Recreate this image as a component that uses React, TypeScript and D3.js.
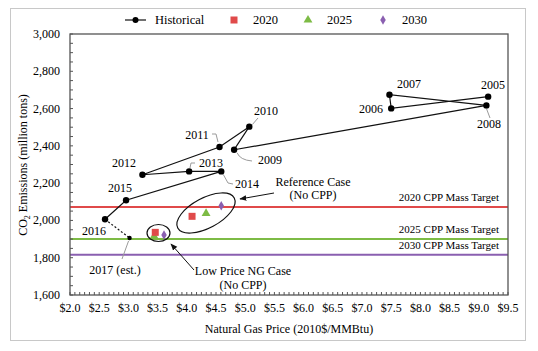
import * as d3 from "d3";

// historical path (price $/MMBtu, emissions million tons)
const histYears = ["2005", "2006", "2007", "2008", "2009", "2010", "2011", "2012", "2013", "2014", "2015", "2016"];
const histPrice = [9.16, 7.5, 7.47, 9.13, 4.81, 5.07, 4.56, 3.24, 4.04, 4.59, 2.96, 2.6];
const histCO2 = [2664, 2601, 2674, 2617, 2379, 2503, 2394, 2245, 2263, 2263, 2108, 2006];
const est2017 = { price: 3.02, co2: 1906 };

// scenario points
const scenarioYears = ["2020", "2025", "2030"];
const refPrice = [4.09, 4.33, 4.59];
const refCO2 = [2022, 2038, 2079];
const lowPrice = [3.46, 3.44, 3.61];
const lowCO2 = [1936, 1915, 1922];

const targetLabels = ["2020 CPP Mass Target", "2025 CPP Mass Target", "2030 CPP Mass Target"];
const targetValues = [2072, 1900, 1816];

const xTicks = d3.range(2, 9.51, 0.5);
const yTicks = d3.range(1600, 3001, 200);

const RED = "#e04a4a";
const GREEN = "#7dbb45";
const PURPLE = "#8a5fb0";
const colors = [RED, GREEN, PURPLE];
const FONT = "Liberation Serif, DejaVu Serif, serif";

const x = d3.scaleLinear().domain([2, 9.5]).range([70, 508]);
const y = d3.scaleLinear().domain([1600, 3000]).range([295, 34]);

function Marker({ kind, cx, cy, color }: { kind: number; cx: number; cy: number; color: string }) {
  if (kind === 0) return <rect x={cx - 3.5} y={cy - 3.5} width={7} height={7} fill={color} />;
  if (kind === 1) return <path d={d3.symbol(d3.symbolTriangle, 34)()!} transform={`translate(${cx},${cy})`} fill={color} />;
  return <path d={d3.symbol(d3.symbolDiamond, 26)()!} transform={`translate(${cx},${cy})`} fill={color} />;
}

export default function App() {
  const line = d3.line<number>().x((_, i) => x(histPrice[i])).y((_, i) => y(histCO2[i]));
  const histPath = line(histPrice)!;

  // 6 minor ticks per $0.50 on x, every 50 on y
  const minorX = d3.range(0, 91).map((i) => 2 + (i * 7.5) / 90);
  const minorY = d3.range(1600, 3001, 50);

  // year label anchor points
  const labelPos: [number, number, string][] = [
    [493, 89, "middle"],
    [383, 113, "end"],
    [409, 88, "middle"],
    [489, 128, "middle"],
    [270, 164, "middle"],
    [266, 115, "middle"],
    [197, 139, "middle"],
    [124, 167, "middle"],
    [211, 167, "middle"],
    [247, 188, "middle"],
    [120, 192, "middle"],
    [94, 235, "middle"],
  ];

  const gray = "#9a9a9a";
  const ref = refPrice.map((p, i) => [x(p), y(refCO2[i])]);
  const low = lowPrice.map((p, i) => [x(p), y(lowCO2[i])]);

  return (
    <svg width={538} height={351} style={{ position: "absolute", left: 0, top: 0, fontFamily: FONT }}>
      <rect x={0} y={0} width={538} height={351} fill="#fff" />
      <rect x={10.5} y={8.5} width={515} height={332} fill="none" stroke="#c8c8c8" />

      {/* target lines */}
      {targetValues.map((v, i) => (
        <g key={i}>
          <line x1={x(2)} x2={x(9.5)} y1={y(v)} y2={y(v)} stroke={colors[i]} strokeWidth={2} />
          <text x={499} y={y(v) - 6} textAnchor="end" fontSize={11}>{targetLabels[i]}</text>
        </g>
      ))}

      {/* frame */}
      <rect x={x(2)} y={y(3000)} width={x(9.5) - x(2)} height={y(1600) - y(3000)} fill="none" stroke="#555" strokeWidth={1.3} />
      {minorX.map((t, i) => (
        <line key={i} x1={x(t)} x2={x(t)} y1={y(1600)} y2={y(1600) - 3} stroke="#555" />
      ))}
      {minorY.map((t, i) => (
        <line key={i} x1={x(2)} x2={x(2) + 3} y1={y(t)} y2={y(t)} stroke="#555" />
      ))}
      {xTicks.map((t, i) => (
        <text key={i} x={x(t)} y={312} textAnchor="middle" fontSize={12}>{`$${t.toFixed(1)}`}</text>
      ))}
      {yTicks.map((t, i) => (
        <text key={i} x={60} y={y(t) + 4} textAnchor="end" fontSize={12}>{d3.format(",")(t)}</text>
      ))}
      <text x={289} y={333} textAnchor="middle" fontSize={12}>Natural Gas Price (2010$/MMBtu)</text>
      <text transform="translate(27,165) rotate(-90)" textAnchor="middle" fontSize={12}>
        CO<tspan fontSize={8} dy={3}>2</tspan><tspan dy={-3}> Emissions (million tons)</tspan>
      </text>

      {/* leader lines */}
      <g stroke={gray} fill="none" strokeWidth={1}>
        <path d={`M${x(9.13)},${y(2617) + 3} L490,118`} />
        <path d={`M${x(4.81) + 3},${y(2379) + 3} Q240,160 252,161`} />
        <path d={`M${x(5.07) + 3},${y(2503) - 2} L258,118`} />
        <path d={`M212,134 L216,134 L218,142`} />
        <path d={`M195,163 L191,163 L190,168`} />
        <path d={`M${x(4.59) + 2},${y(2263) + 3} L228,183 L233,184`} />
        <path d={`M${x(3.02) - 1},${y(1906) + 3} L122,259`} />
      </g>

      {/* historical line */}
      <path d={histPath} fill="none" stroke="#111" strokeWidth={1.2} />
      <line x1={x(histPrice[11])} y1={y(histCO2[11])} x2={x(est2017.price)} y2={y(est2017.co2)} stroke="#111" strokeWidth={1.2} strokeDasharray="2,2" />
      {histPrice.map((p, i) => (
        <circle key={i} cx={x(p)} cy={y(histCO2[i])} r={3.2} fill="#000" />
      ))}
      <circle cx={x(est2017.price)} cy={y(est2017.co2)} r={2.2} fill="#000" />
      {histYears.map((yr, i) => (
        <text key={yr} x={labelPos[i][0]} y={labelPos[i][1]} textAnchor={labelPos[i][2] as any} fontSize={12}>{yr}</text>
      ))}
      <text x={115} y={274} textAnchor="middle" fontSize={12}>2017 (est.)</text>

      {/* scenarios */}
      {scenarioYears.map((_, i) => (
        <Marker key={"r" + i} kind={i} cx={ref[i][0]} cy={ref[i][1]} color={colors[i]} />
      ))}
      {[1, 0, 2].map((i) => (
        <Marker key={"l" + i} kind={i} cx={low[i][0]} cy={low[i][1]} color={colors[i]} />
      ))}
      <ellipse cx={206} cy={213} rx={32} ry={15} transform="rotate(-28,206,213)" fill="none" stroke="#111" strokeWidth={1.2} />
      <ellipse cx={158.5} cy={233} rx={11.5} ry={8.5} fill="none" stroke="#111" strokeWidth={1.2} />

      <defs>
        <marker id="arr" viewBox="0 0 10 10" refX={9} refY={5} markerWidth={7} markerHeight={7} orient="auto">
          <path d="M0,1 L10,5 L0,9 z" fill="#111" />
        </marker>
      </defs>
      <line x1={274} y1={193} x2={240} y2={199} stroke="#111" markerEnd="url(#arr)" />
      <text x={313} y={186} textAnchor="middle" fontSize={12}>Reference Case</text>
      <text x={313} y={199} textAnchor="middle" fontSize={12}>(No CPP)</text>
      <line x1={194} y1={270} x2={171} y2={244} stroke="#111" markerEnd="url(#arr)" />
      <text x={243} y={275} textAnchor="middle" fontSize={12}>Low Price NG Case</text>
      <text x={243} y={289} textAnchor="middle" fontSize={12}>(No CPP)</text>

      {/* legend */}
      <line x1={125} x2={146} y1={20} y2={20} stroke="#111" strokeWidth={1.2} />
      <circle cx={135.5} cy={20} r={3} fill="#000" />
      <text x={155} y={24} fontSize={12.5}>Historical</text>
      {scenarioYears.map((yr, i) => {
        const mx = [234, 308, 383][i];
        return (
          <g key={yr}>
            <Marker kind={i} cx={mx} cy={20} color={colors[i]} />
            <text x={mx + 19} y={24} fontSize={12.5}>{yr}</text>
          </g>
        );
      })}
    </svg>
  );
}
